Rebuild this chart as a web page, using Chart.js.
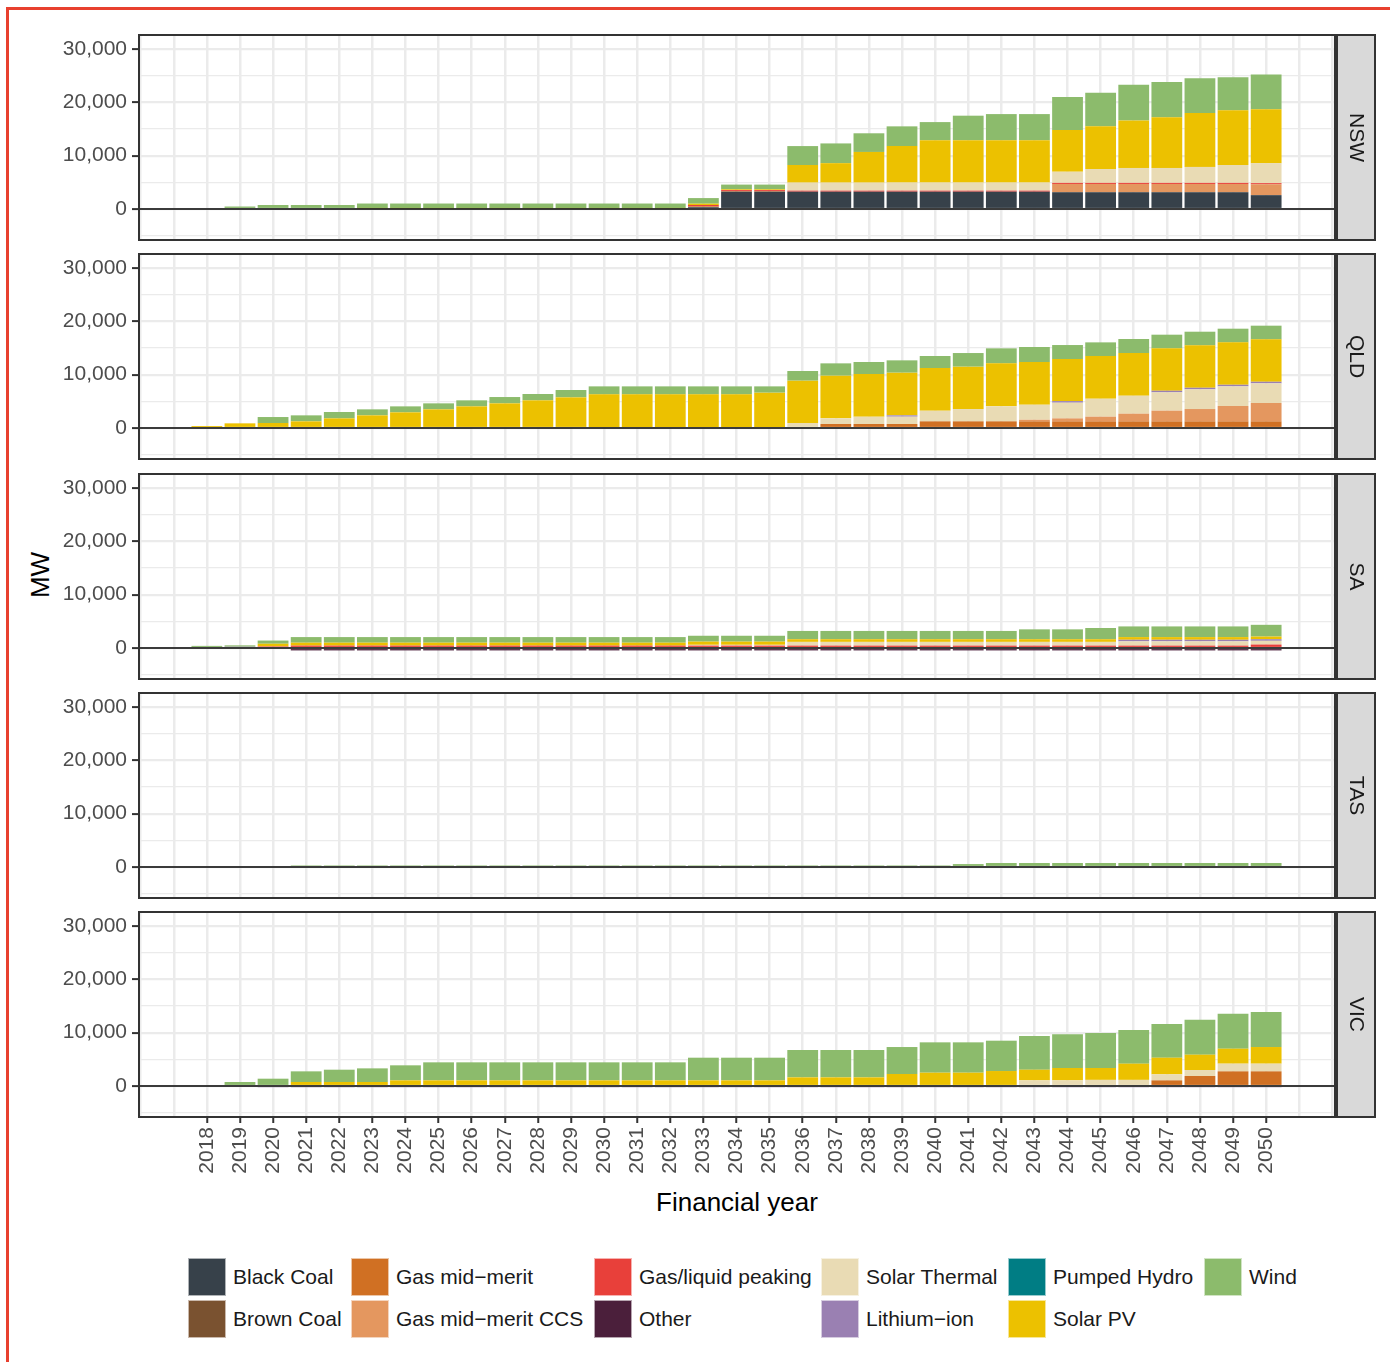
<!DOCTYPE html>
<html>
<head>
<meta charset="utf-8">
<script src="https://cdn.jsdelivr.net/npm/chart.js"></script>
<style>
  body { margin: 0; width: 1390px; height: 1362px; background: #fff; position: relative; overflow: hidden;
         font-family: "Liberation Sans", Arial, sans-serif; }
  .frame-top { position: absolute; left: 6px; top: 7px; width: 1384px; height: 3px; background: #e8402f; }
  .frame-left { position: absolute; left: 6px; top: 7px; width: 3px; height: 1355px; background: #e8402f; }
  canvas { position: absolute; left: 0; }
  .title { position: absolute; font-size: 26px; color: #000; white-space: nowrap; }
  .key { position: absolute; width: 38px; height: 38px; box-sizing: border-box; border: 1px solid rgba(255,255,255,0.6); }
  .lab { position: absolute; font-size: 21px; color: #1a1a1a; white-space: nowrap; line-height: 24px; }
</style>
</head>
<body>
<div class="frame-top"></div>
<div class="frame-left"></div>
<div class="title" id="ytitle" style="left:40px;top:575px;transform:translate(-50%,-50%) rotate(-90deg);">MW</div>
<div class="title" id="xtitle" style="left:737px;top:1202px;transform:translate(-50%,-50%);">Financial year</div>

<script>
// ---- data ----
const years = [2018, 2019, 2020, 2021, 2022, 2023, 2024, 2025, 2026, 2027, 2028,
               2029, 2030, 2031, 2032, 2033, 2034, 2035, 2036, 2037, 2038, 2039,
               2040, 2041, 2042, 2043, 2044, 2045, 2046, 2047, 2048, 2049, 2050];

const techs = ['Black Coal', 'Brown Coal', 'Gas mid\u2212merit', 'Gas mid\u2212merit CCS', 'Gas/liquid peaking',
               'Other', 'Solar Thermal', 'Lithium\u2212ion', 'Pumped Hydro', 'Solar PV', 'Wind'];
const colours = ['#37414a', '#7a5230', '#d07023', '#e4975f', '#e8403a',
                 '#4b1f3b', '#e9dbb4', '#9a80b2', '#007d84', '#ecc100', '#8cbb6c'];

const yBreaks = [0, 10000, 20000, 30000];
const yMinorBreaks = [-5000, 5000, 15000, 25000];

// NSW
const nswBlackCoal = [0, 0, 0, 0, 0, 0, 0, 0, 0, 0, 0,
                      0, 0, 0, 0, 350, 3250, 3250, 3250, 3250, 3250, 3250,
                      3250, 3250, 3250, 3250, 3150, 3150, 3150, 3150, 3150, 3150, 2600];
const nswGasMid = [0, 0, 0, 0, 0, 0, 0, 0, 0, 0, 0,
                   0, 0, 0, 0, 150, 100, 100, 0, 0, 0, 0,
                   0, 0, 0, 0, 0, 0, 0, 0, 0, 0, 0];
const nswGasCcs = [0, 0, 0, 0, 0, 0, 0, 0, 0, 0, 0,
                   0, 0, 0, 0, 0, 0, 0, 0, 0, 0, 0,
                   0, 0, 0, 0, 1550, 1550, 1550, 1550, 1550, 1550, 2050];
const nswGasPeak = [0, 0, 0, 0, 0, 0, 0, 0, 0, 0, 0,
                    0, 0, 0, 0, 250, 200, 200, 200, 200, 200, 200,
                    200, 200, 200, 200, 200, 200, 200, 200, 200, 200, 200];
const nswSolarThermal = [0, 0, 0, 0, 0, 0, 0, 0, 0, 0, 0,
                         0, 0, 0, 0, 0, 0, 0, 1500, 1500, 1500, 1500,
                         1500, 1500, 1500, 1500, 2100, 2600, 2800, 2800, 3000, 3350, 3750];
const nswSolarPv = [0, 0, 0, 0, 0, 150, 150, 150, 150, 150, 150,
                    150, 150, 150, 150, 250, 150, 150, 3300, 3650, 5750, 6850,
                    7950, 7950, 7950, 7950, 7800, 8000, 8900, 9500, 10100, 10250, 10100];
const nswWind = [0, 470, 750, 750, 750, 880, 880, 880, 880, 880, 880,
                 880, 880, 880, 880, 1050, 880, 880, 3550, 3700, 3500, 3700,
                 3400, 4600, 4900, 4900, 6200, 6300, 6700, 6600, 6500, 6200, 6500];

// QLD
const qldGasMid = [0, 0, 0, 0, 0, 0, 0, 0, 0, 0, 0,
                   0, 0, 0, 0, 0, 0, 0, 0, 750, 750, 750,
                   1250, 1250, 1250, 1250, 1250, 1250, 1250, 1250, 1250, 1250, 1250];
const qldGasCcs = [0, 0, 0, 0, 0, 0, 0, 0, 0, 0, 0,
                   0, 0, 0, 0, 0, 0, 0, 0, 0, 0, 0,
                   0, 0, 0, 300, 560, 875, 1440, 2000, 2310, 2875, 3440];
const qldSolarThermal = [0, 0, 0, 0, 0, 0, 0, 0, 0, 0, 0,
                         0, 0, 0, 0, 0, 0, 0, 940, 1060, 1375, 1375,
                         2000, 2310, 2810, 2825, 2940, 3375, 3370, 3440, 3690, 3685, 3685];
const qldLithium = [0, 0, 0, 0, 0, 0, 0, 0, 0, 0, 0,
                    0, 0, 0, 0, 0, 0, 0, 0, 0, 0, 250,
                    0, 0, 0, 0, 300, 0, 0, 300, 300, 300, 300];
const qldSolarPv = [375, 875, 940, 1250, 1810, 2375, 2940, 3500, 4060, 4625, 5190,
                    5750, 6310, 6310, 6310, 6310, 6310, 6625, 7935, 8000, 8000, 8000,
                    8000, 7940, 8065, 8000, 7890, 8000, 8000, 7950, 7950, 7950, 7950];
const qldWind = [0, 0, 1120, 1125, 1190, 1125, 1120, 1125, 1130, 1185, 1190,
                 1380, 1500, 1500, 1500, 1500, 1500, 1185, 1815, 2315, 2250, 2315,
                 2250, 2560, 2815, 2815, 2620, 2560, 2630, 2560, 2560, 2565, 2565];

// SA
const saGasPeak = [0, 0, 300, 450, 450, 450, 450, 450, 450, 450, 450,
                   450, 450, 450, 450, 450, 450, 450, 450, 450, 450, 450,
                   450, 450, 450, 450, 450, 450, 450, 450, 450, 450, 650];
const saOther = [0, 0, 0, -450, -450, -450, -450, -450, -450, -450, -450,
                 -450, -450, -450, -450, -450, -450, -450, -450, -450, -450, -450,
                 -450, -450, -450, -450, -450, -450, -450, -450, -450, -450, -450];
const saSolarThermal = [0, 0, 0, 0, 0, 0, 0, 0, 0, 0, 0,
                        0, 0, 0, 0, 150, 150, 150, 700, 700, 700, 700,
                        700, 700, 700, 700, 700, 700, 800, 800, 800, 800, 700];
const saLithium = [0, 250, 0, 0, 0, 0, 0, 0, 0, 0, 0,
                   0, 0, 0, 0, 0, 0, 0, 0, 0, 0, 0,
                   0, 0, 0, 0, 0, 0, 300, 300, 300, 300, 300];
const saSolarPv = [0, 0, 500, 550, 550, 550, 550, 550, 550, 550, 550,
                   550, 550, 550, 550, 600, 600, 600, 500, 500, 500, 500,
                   500, 500, 500, 500, 500, 500, 500, 500, 500, 500, 500];
const saWind = [400, 250, 600, 1050, 1050, 1050, 1050, 1050, 1050, 1050, 1050,
                1050, 1050, 1050, 1050, 1100, 1100, 1100, 1550, 1550, 1550, 1550,
                1550, 1550, 1550, 1850, 1850, 2100, 2000, 2000, 2000, 2000, 2200];

// TAS
const tasWind = [0, 0, 0, 300, 300, 300, 300, 300, 300, 300, 300,
                 300, 300, 300, 300, 300, 300, 300, 300, 300, 300, 300,
                 300, 550, 750, 750, 750, 750, 750, 750, 750, 750, 750];

// VIC
const vicGasMid = [0, 0, 0, 0, 0, 0, 0, 0, 0, 0, 0,
                   0, 0, 0, 0, 0, 0, 0, 0, 0, 0, 0,
                   0, 0, 0, 0, 0, 0, 0, 1060, 1875, 2750, 2750];
const vicSolarThermal = [0, 0, 0, 0, 0, 0, 0, 0, 0, 0, 0,
                         0, 0, 0, 0, 0, 0, 0, 0, 0, 0, 0,
                         0, 0, 0, 1060, 1060, 1150, 1150, 1125, 1125, 1440, 1440];
const vicLithium = [0, 0, -250, -250, -250, -250, -250, -250, -250, -250, -250,
                    -250, -250, -250, -250, -250, -250, -250, -250, -250, -250, -250,
                    -250, -250, -250, -250, -250, -250, -250, -250, -250, -250, -250];
const vicSolarPv = [0, 0, 0, 750, 750, 750, 1060, 1060, 1060, 1060, 1060,
                    1060, 1060, 1060, 1060, 1060, 1060, 1060, 1625, 1625, 1625, 2250,
                    2500, 2500, 2810, 2000, 2315, 2225, 3040, 3125, 2875, 2810, 3120];
const vicWind = [0, 750, 1375, 2000, 2310, 2560, 2820, 3380, 3380, 3380, 3380,
                 3380, 3380, 3380, 3380, 4250, 4250, 4250, 5125, 5125, 5125, 5060,
                 5690, 5690, 5690, 6315, 6315, 6565, 6310, 6315, 6565, 6560, 6565];

const regions = [
  { name: 'NSW', series: { 'Black Coal': nswBlackCoal, 'Gas mid\u2212merit': nswGasMid, 'Gas mid\u2212merit CCS': nswGasCcs,
                           'Gas/liquid peaking': nswGasPeak, 'Solar Thermal': nswSolarThermal, 'Solar PV': nswSolarPv, 'Wind': nswWind } },
  { name: 'QLD', series: { 'Gas mid\u2212merit': qldGasMid, 'Gas mid\u2212merit CCS': qldGasCcs, 'Solar Thermal': qldSolarThermal,
                           'Lithium\u2212ion': qldLithium, 'Solar PV': qldSolarPv, 'Wind': qldWind } },
  { name: 'SA', series: { 'Gas/liquid peaking': saGasPeak, 'Other': saOther, 'Solar Thermal': saSolarThermal,
                          'Lithium\u2212ion': saLithium, 'Solar PV': saSolarPv, 'Wind': saWind } },
  { name: 'TAS', series: { 'Wind': tasWind } },
  { name: 'VIC', series: { 'Gas mid\u2212merit': vicGasMid, 'Solar Thermal': vicSolarThermal, 'Lithium\u2212ion': vicLithium,
                           'Solar PV': vicSolarPv, 'Wind': vicWind } }
];

// ---- layout ----
const panelTops = [35, 254, 474, 693, 912];
const panelH = 205;
const pad = 24; // room above/below each panel inside its canvas
const xGrid = [];
for (let v = 2016; v <= 2052; v++) xGrid.push(v);

Chart.defaults.font.family = '"Liberation Sans", Arial, sans-serif';

// draws the zero line, the panel frame and the facet strip
const panelFrame = {
  id: 'panelFrame',
  afterDatasetsDraw(chart) {
    const { ctx, chartArea: a, scales } = chart;
    const y0 = scales.y.getPixelForValue(0);
    ctx.save();
    ctx.strokeStyle = '#000';
    ctx.lineWidth = 1.5;
    ctx.beginPath();
    ctx.moveTo(a.left, y0);
    ctx.lineTo(a.right, y0);
    ctx.stroke();
    ctx.restore();
  },
  afterDraw(chart, args, opts) {
    const { ctx, chartArea: a } = chart;
    ctx.save();
    ctx.strokeStyle = '#333';
    ctx.lineWidth = 2;
    ctx.strokeRect(a.left, a.top, a.right - a.left, a.bottom - a.top);
    // strip
    const sx = a.right + 2, sw = 38;
    ctx.fillStyle = '#d9d9d9';
    ctx.fillRect(sx, a.top, sw, a.bottom - a.top);
    ctx.strokeRect(sx, a.top, sw, a.bottom - a.top);
    ctx.translate(sx + sw / 2, (a.top + a.bottom) / 2);
    ctx.rotate(Math.PI / 2);
    ctx.fillStyle = '#1a1a1a';
    ctx.font = '21px "Liberation Sans", Arial, sans-serif';
    ctx.textAlign = 'center';
    ctx.textBaseline = 'middle';
    ctx.fillText(opts.strip, 0, 0);
    ctx.restore();
  }
};

regions.forEach((r, i) => {
  const last = i === regions.length - 1;
  const cv = document.createElement('canvas');
  cv.width = 1390;
  cv.height = pad + panelH + (last ? 70 : pad);
  cv.style.top = (panelTops[i] - pad) + 'px';
  document.body.appendChild(cv);

  const datasets = [];
  techs.forEach((t, k) => {
    const vals = r.series[t];
    if (!vals) return;
    datasets.push({
      label: t,
      backgroundColor: colours[k],
      borderWidth: 0,
      barPercentage: 0.93,
      categoryPercentage: 1,
      data: years.map((yr, j) => ({ x: yr, y: vals[j] }))
    });
  });

  new Chart(cv, {
    type: 'bar',
    data: { datasets },
    options: {
      responsive: false,
      animation: false,
      devicePixelRatio: 1,
      layout: { autoPadding: false, padding: { top: pad, right: 55, bottom: last ? 0 : pad, left: 0 } },
      plugins: {
        legend: { display: false },
        tooltip: { enabled: false },
        panelFrame: { strip: r.name }
      },
      scales: {
        x: {
          type: 'linear',
          stacked: true,
          offset: false,
          min: 2015.95,
          max: 2052.08,
          afterBuildTicks: s => { s.ticks = xGrid.map(v => ({ value: v })); },
          afterFit: s => { s.height = last ? 70 : 0; },
          grid: {
            offset: false,
            color: '#ebebeb',
            lineWidth: 2.5,
            drawTicks: last,
            tickLength: 6,
            tickWidth: 2,
            tickColor: c => (c.tick && years.includes(c.tick.value)) ? '#333' : 'rgba(0,0,0,0)'
          },
          border: { display: false },
          ticks: {
            display: last,
            autoSkip: false,
            minRotation: 90,
            maxRotation: 90,
            padding: 4,
            color: '#4d4d4d',
            font: { size: 21 },
            callback: v => years.includes(v) ? String(v) : ''
          }
        },
        y: {
          type: 'linear',
          stacked: true,
          min: -5810,
          max: 32630,
          afterBuildTicks: s => {
            s.ticks = yMinorBreaks.concat(yBreaks).sort((a, b) => a - b).map(v => ({ value: v }));
          },
          afterFit: s => { s.width = 139; },
          grid: {
            color: '#ebebeb',
            lineWidth: c => (c.tick && yBreaks.includes(c.tick.value)) ? 2.2 : 1.2,
            tickLength: 7,
            tickWidth: 2,
            tickColor: c => (c.tick && yBreaks.includes(c.tick.value)) ? '#333' : 'rgba(0,0,0,0)'
          },
          border: { display: false },
          ticks: {
            autoSkip: false,
            color: '#4d4d4d',
            font: { size: 21 },
            padding: 5,
            callback: v => yBreaks.includes(v) ? v.toLocaleString('en-US') : ''
          }
        }
      }
    },
    plugins: [panelFrame]
  });
});

// ---- legend (two rows, filled column by column) ----
const legendCols = [188, 351, 594, 821, 1008, 1204];
const legendRows = [1258, 1300];
techs.forEach((t, k) => {
  const x = legendCols[Math.floor(k / 2)];
  const y = legendRows[k % 2];
  const key = document.createElement('div');
  key.className = 'key';
  key.style.left = x + 'px';
  key.style.top = y + 'px';
  key.style.background = colours[k];
  document.body.appendChild(key);
  const lab = document.createElement('div');
  lab.className = 'lab';
  lab.style.left = (x + 45) + 'px';
  lab.style.top = (y + 7) + 'px';
  lab.textContent = t;
  document.body.appendChild(lab);
});
</script>
</body>
</html>
